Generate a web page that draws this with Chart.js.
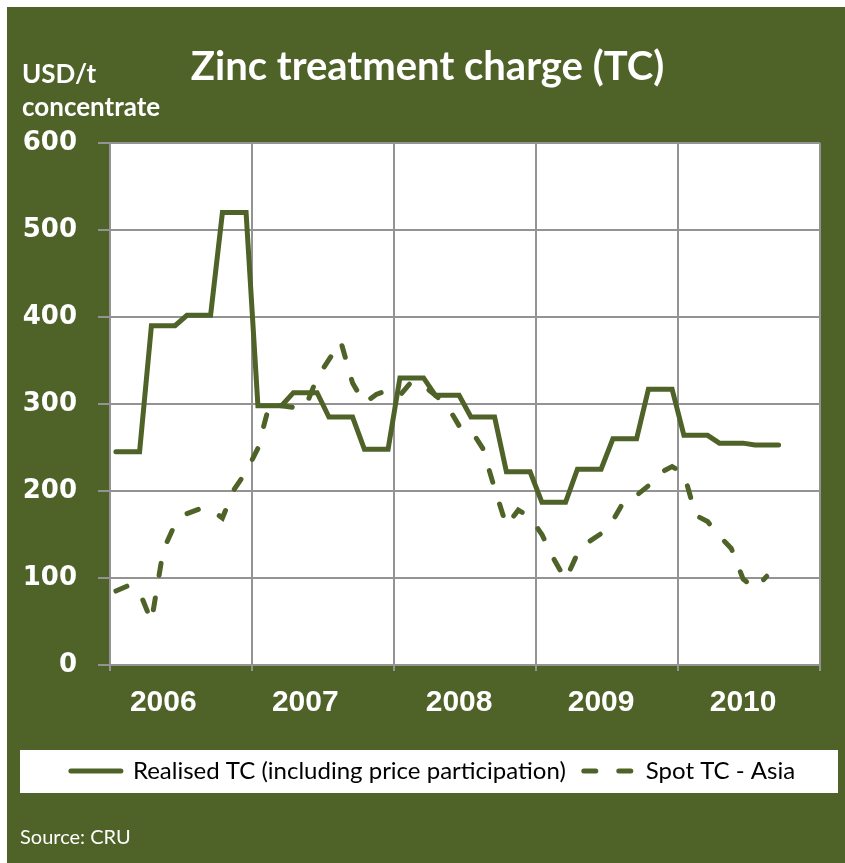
<!DOCTYPE html>
<html>
<head>
<meta charset="utf-8">
<script src="https://cdn.jsdelivr.net/npm/chart.js@4.4.1/dist/chart.umd.min.js"></script>
<style>
  html, body { margin: 0; padding: 0; background: #ffffff; }
  #wrap { width: 845px; height: 863px; }
</style>
</head>
<body>
<div id="wrap"><canvas id="c" width="845" height="863"></canvas></div>
<script>
// ---- data ----
const years = ['2006', '2007', '2008', '2009', '2010'];
const monthNames = ['Jan', 'Feb', 'Mar', 'Apr', 'May', 'Jun', 'Jul', 'Aug', 'Sep', 'Oct', 'Nov', 'Dec'];
const months = years.flatMap(y => monthNames.map(m => m + ' ' + y));
const yearLabels = ['2006', '2007', '2008', '2009', '2010'];

const realisedTC = [
  245, 245, 245, 390, 390, 390, 402, 402, 402, 520, 520, 520,
  298, 298, 298, 313, 313, 313, 285, 285, 285, 248, 248, 248,
  330, 330, 330, 310, 310, 310, 285, 285, 285, 222, 222, 222,
  187, 187, 187, 225, 225, 225, 260, 260, 260, 317, 317, 317,
  264, 264, 264, 255, 255, 255, 253, 253, 253
];
const spotTCAsia = [
  85, 91, 84, 50, 132, 162, 174, 179, 179, 169, 202, 222,
  249, 301, 298, 296, 296, 330, 351, 372, 324, 301, 311, 316,
  310, 326, 321, 310, 298, 275, 270, 249, 203, 160, 178, 170,
  150, 122, 98, 128, 142, 151, 166, 190, 195, 206, 221, 228,
  220, 172, 165, 148, 134, 99, 88, 102
];

const titleText = 'Zinc treatment charge (TC)';
const unitLines = ['USD/t', 'concentrate'];
const sourceText = 'Source: CRU';
const seriesNames = ['Realised TC (including price participation)', 'Spot TC - Asia'];

// ---- styling ----
const OLIVE = '#4F6228';
const GRID = '#939393';
const yearLabelMonth = [4, 16, 29, 41, 53];

const bgPlugin = {
  id: 'bg',
  beforeDraw(chart) {
    const { ctx, width, height, chartArea: a, legend, titleBlock } = chart;
    ctx.save();
    ctx.fillStyle = '#ffffff';
    ctx.fillRect(0, 0, width, height);
    ctx.fillStyle = OLIVE;
    ctx.fillRect(7, 7, width - 7, height - 7);
    ctx.fillStyle = '#ffffff';
    ctx.fillRect(a.left, a.top, a.right - a.left, a.bottom - a.top);
    // white legend panel
    ctx.fillRect(20, legend.bottom - 43, 818, 43);
    legend.left = 28;
    legend.right = 838;
    if (titleBlock) { titleBlock.left = 35; titleBlock.right = 820; }
    ctx.restore();
  },
  afterDraw(chart) {
    const { ctx } = chart;
    ctx.save();
    ctx.fillStyle = '#ffffff';
    ctx.textBaseline = 'middle';
    ctx.textAlign = 'left';
    ctx.font = 'bold 26px Lato';
    ctx.fillText(unitLines[0], 22, 75);
    ctx.fillText(unitLines[1], 22, 108);
    ctx.font = '20px Lato';
    ctx.fillText(sourceText, 20, 838);
    ctx.restore();
  }
};

new Chart(document.getElementById('c'), {
  type: 'line',
  data: {
    labels: months,
    datasets: [
      {
        label: seriesNames[0],
        data: realisedTC,
        borderColor: OLIVE,
        backgroundColor: OLIVE,
        borderWidth: 5,
        borderCapStyle: 'round',
        pointRadius: 0,
        tension: 0,
        fill: false
      },
      {
        label: seriesNames[1],
        data: spotTCAsia,
        borderColor: OLIVE,
        backgroundColor: OLIVE,
        borderWidth: 5,
        borderDash: [12, 23],
        borderCapStyle: 'round',
        pointRadius: 0,
        tension: 0,
        fill: false
      }
    ]
  },
  options: {
    responsive: false,
    animation: false,
    devicePixelRatio: 1,
    layout: { padding: { top: 7, left: 7, right: 25, bottom: 70 } },
    plugins: {
      title: {
        display: true,
        text: titleText,
        color: '#ffffff',
        font: { family: 'Lato', weight: 'bold', size: 40, lineHeight: 1.2 },
        padding: { top: 36, bottom: 52 }
      },
      legend: {
        position: 'bottom',
        labels: {
          usePointStyle: true,
          pointStyle: 'line',
          pointStyleWidth: 50,
          color: '#000000',
          font: { family: 'Lato', size: 24 },
          padding: 18,
          generateLabels: chart => {
            const items = Chart.defaults.plugins.legend.labels.generateLabels(chart);
            items.forEach(it => {
              const ds = chart.data.datasets[it.datasetIndex];
              it.lineDash = ds.borderDash || [];
              it.lineCap = 'round';
              it.lineWidth = ds.borderWidth;
              it.strokeStyle = ds.borderColor;
            });
            return items;
          }
        }
      },
      tooltip: { enabled: false }
    },
    scales: {
      x: {
        type: 'category',
        offset: true,
        grid: {
          offset: true,
          color: c => (c.type !== 'tick' || c.index % 12 === 0) ? GRID : 'rgba(0,0,0,0)',
          lineWidth: 2,
          tickLength: 6
        },
        border: { color: GRID, width: 2 },
        ticks: {
          autoSkip: false,
          maxRotation: 0,
          minRotation: 0,
          padding: 14,
          color: '#ffffff',
          font: { family: 'Liberation Sans', weight: 'bold', size: 30 },
          callback: (v, i) => {
            const k = yearLabelMonth.indexOf(i);
            return k >= 0 ? yearLabels[k] : '';
          }
        },
        afterFit: s => { s.height = 76; }
      },
      y: {
        min: 0,
        max: 600,
        ticks: {
          stepSize: 100,
          padding: 21,
          color: '#ffffff',
          font: { family: 'DejaVu Sans', weight: 'bold', size: 26 }
        },
        grid: { color: GRID, lineWidth: 2, tickLength: 12 },
        border: { color: GRID, width: 2 },
        afterFit: s => { s.width = 103; }
      }
    }
  },
  plugins: [bgPlugin]
});
</script>
</body>
</html>
